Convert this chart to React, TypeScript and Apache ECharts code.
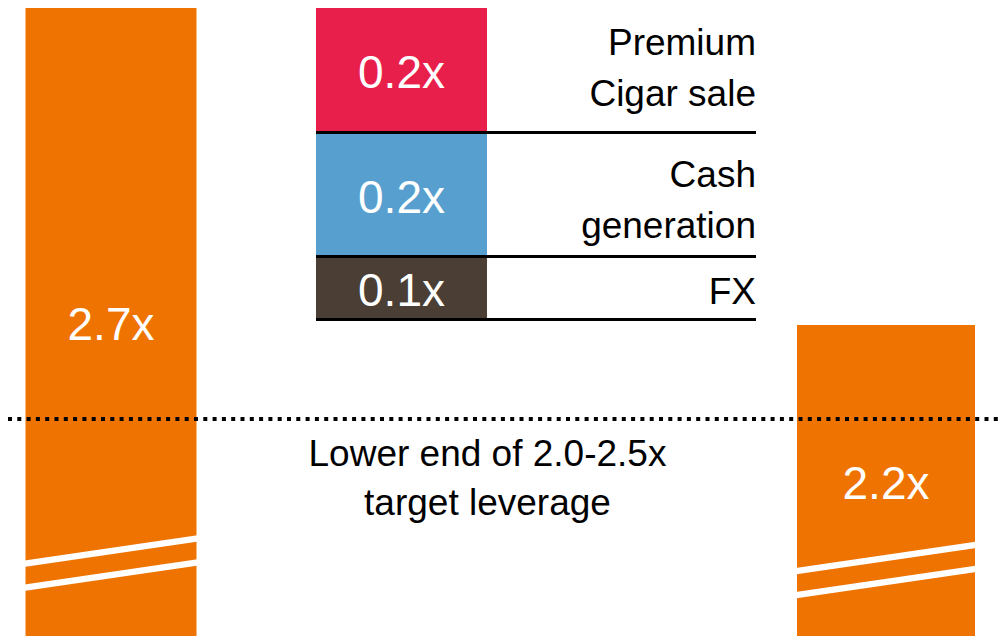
import React, { useEffect, useRef } from "react";
import * as echarts from "echarts";

// ---- data ----
const categories = ["Start", "Bridge", "End"];
const startLeverage = 2.7;
const endLeverage = 2.19;
// bridge segments, bottom to top
const bridgeNames = ["FX", "Cash\ngeneration", "Premium\nCigar sale"];
const bridgeValues = [0.1, 0.2, 0.2];
const targetLevel = 2.04;
const targetText = "Lower end of 2.0-2.5x\ntarget leverage";
const yMin = 1.69;
const yMax = 2.7;

const FONT = '"Liberation Sans", Arial, Helvetica, sans-serif';
const ORANGE = "#EF7300";
const SEG_COLORS = ["#4A3E35", "#569FCF", "#E81F4A"];
const NAME_DY = [4, 5, -2];

const fmt = (v: number) => v.toFixed(1) + "x";

export default function App() {
  const ref = useRef<HTMLDivElement>(null);
  useEffect(() => {
    if (!ref.current) return;
    const chart = echarts.init(ref.current, null, { renderer: "svg" });
    const bridgeTotal = bridgeValues.reduce((a, b) => a + b, 0);
    const base = +(startLeverage - bridgeTotal).toFixed(4);

    const valueLabel = {
      show: true,
      position: "inside",
      color: "#fff",
      fontSize: 46,
      fontFamily: FONT,
      offset: [0, 2],
      formatter: (p: any) => fmt(p.value),
    };

    const grids = [
      { left: 25.5, width: 171, top: 8, bottom: 0 },
      { left: 316, width: 171, top: 8, bottom: 0 },
      { left: 797, width: 178, top: 8, bottom: 0 },
    ];

    let cum = base;
    const segSeries = bridgeValues.map((v, i) => {
      const lo = cum;
      cum += v;
      return {
        type: "bar",
        name: bridgeNames[i],
        xAxisIndex: 1,
        yAxisIndex: 1,
        stack: "bridge",
        barWidth: "100%",
        data: [v],
        itemStyle: { color: SEG_COLORS[i] },
        label: valueLabel,
        silent: true,
        markPoint: {
          symbol: "circle",
          symbolSize: 1,
          itemStyle: { color: "transparent" },
          silent: true,
          label: {
            show: true,
            position: "inside",
            offset: [354.5, NAME_DY[i]],
            align: "right",
            verticalAlign: "middle",
            color: "#000",
            fontSize: 37,
            lineHeight: 51,
            fontFamily: FONT,
            formatter: bridgeNames[i],
          },
          data: [{ coord: [0, lo + v / 2] }],
        },
        markLine: {
          symbol: ["none", "none"],
          silent: true,
          label: { show: false },
          lineStyle: { color: "#000", width: 3, type: "solid" },
          data: [[{ yAxis: lo, x: 316 }, { yAxis: lo, x: 756 }]],
        },
      };
    });

    chart.setOption({
      animation: false,
      grid: grids,
      xAxis: grids.map((_, i) => ({
        type: "category",
        gridIndex: i,
        data: [categories[i]],
        show: false,
      })),
      yAxis: grids.map((_, i) => ({
        type: "value",
        gridIndex: i,
        min: yMin,
        max: yMax,
        show: false,
        splitLine: { show: false },
      })),
      series: [
        {
          type: "bar",
          name: categories[0],
          xAxisIndex: 0,
          yAxisIndex: 0,
          barWidth: "100%",
          data: [startLeverage],
          itemStyle: { color: ORANGE },
          label: valueLabel,
          silent: true,
        },
        {
          type: "bar",
          name: "base",
          xAxisIndex: 1,
          yAxisIndex: 1,
          stack: "bridge",
          barWidth: "100%",
          data: [base],
          itemStyle: { color: "transparent" },
          silent: true,
        },
        ...segSeries,
        {
          type: "bar",
          name: categories[2],
          xAxisIndex: 2,
          yAxisIndex: 2,
          barWidth: "100%",
          data: [endLeverage],
          itemStyle: { color: ORANGE },
          label: valueLabel,
          silent: true,
          markLine: {
            symbol: ["none", "none"],
            silent: true,
            z: 10,
            label: { show: false },
            lineStyle: { color: "#000", width: 4, type: [4, 5.3] },
            data: [[{ yAxis: targetLevel, x: 8 }, { yAxis: targetLevel, x: 1000 }]],
          },
        },
      ],
      graphic: [
        { type: "line", z: 100, shape: { x1: 20, y1: 564.4, x2: 203, y2: 537.6 }, style: { stroke: "#fff", lineWidth: 6.5 } },
        { type: "line", z: 100, shape: { x1: 20, y1: 588.4, x2: 203, y2: 561.6 }, style: { stroke: "#fff", lineWidth: 6.5 } },
        { type: "line", z: 100, shape: { x1: 791, y1: 571.9, x2: 981, y2: 544.1 }, style: { stroke: "#fff", lineWidth: 6.5 } },
        { type: "line", z: 100, shape: { x1: 791, y1: 595.9, x2: 981, y2: 568.1 }, style: { stroke: "#fff", lineWidth: 6.5 } },
        {
          type: "text",
          z: 100,
          x: 487.5,
          y: 478,
          style: {
            text: targetText,
            fill: "#000",
            fontSize: 37,
            fontFamily: FONT,
            align: "center",
            verticalAlign: "middle",
            lineHeight: 49,
          },
        },
      ],
    });
    return () => chart.dispose();
  }, []);
  return (
    <div
      ref={ref}
      style={{ position: "absolute", left: 0, top: 0, width: 1000, height: 636 }}
    />
  );
}
